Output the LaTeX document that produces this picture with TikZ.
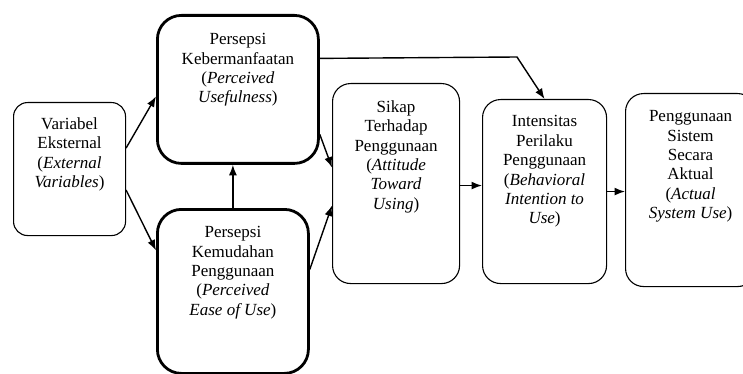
\documentclass[tikz,border=0pt]{standalone}
\usepackage{fontspec}
\setmainfont{Liberation Serif}
\usetikzlibrary{arrows.meta}
\newcommand{\isikotak}[4]{\parbox[c][#2][t]{#1}{\centering\vspace*{#3}#4}}

\begin{document}
\begin{tikzpicture}[x=1pt,y=-1pt,->,>={Latex[length=10.5pt,width=8pt]},line width=1.4pt,
    kotak/.style={draw,rounded corners=18pt,line width=1.1pt,inner sep=0pt,anchor=north west,
        font=\fontsize{17}{19.4}\selectfont},
    tebal/.style={kotak,rounded corners=24pt,line width=2.8pt}]
    \clip (0,0) rectangle (743,374);
    \node[kotak,rounded corners=14pt] (ve) at (13,102)
        {\isikotak{112pt}{133pt}{15pt}{Variabel\\Eksternal\\(\textit{External}\\\textit{Variables})}};
    \node[tebal] (pu) at (156,14)
        {\isikotak{161pt}{148pt}{18pt}{Persepsi\\Kebermanfaatan\\(\textit{Perceived}\\\textit{Usefulness})}};
    \node[tebal] (peou) at (156,208)
        {\isikotak{151pt}{164pt}{17pt}{Persepsi\\Kemudahan\\Penggunaan\\(\textit{Perceived}\\\textit{Ease of Use})}};
    \node[kotak] (sikap) at (332,83)
        {\isikotak{127pt}{200pt}{17pt}{Sikap\\Terhadap\\Penggunaan\\(\textit{Attitude}\\\textit{Toward}\\\textit{Using})}};
    \node[kotak] (niat) at (482,99)
        {\isikotak{124pt}{184pt}{16pt}{Intensitas\\Perilaku\\Penggunaan\\(\textit{Behavioral}\\\textit{Intention to}\\\textit{Use})}};
    \node[kotak] (pakai) at (625,93)
        {\isikotak{130pt}{193pt}{17pt}{Penggunaan\\Sistem\\Secara\\Aktual\\(\textit{Actual}\\\textit{System Use})}};
    \coordinate (belok) at (517,57);
    \path   ([yshift=21pt]ve.east) edge ([yshift=-7pt]pu.west)
            ([yshift=-21pt]ve.east) edge ([yshift=41pt]peou.west)
            (peou.north) edge (peou.north |- pu.south)
            ([yshift=-45pt]pu.east) edge ([yshift=16pt]sikap.west)
            ([yshift=22pt]peou.east) edge ([yshift=-22pt]sikap.west)
            ([yshift=-2pt]sikap.east) edge ([yshift=-2pt]sikap.east -| niat.west)
            (niat.east) edge (niat.east -| pakai.west);
    \draw ([yshift=31pt]pu.east) -- (belok) -- (niat.north);
\end{tikzpicture}
\end{document}
